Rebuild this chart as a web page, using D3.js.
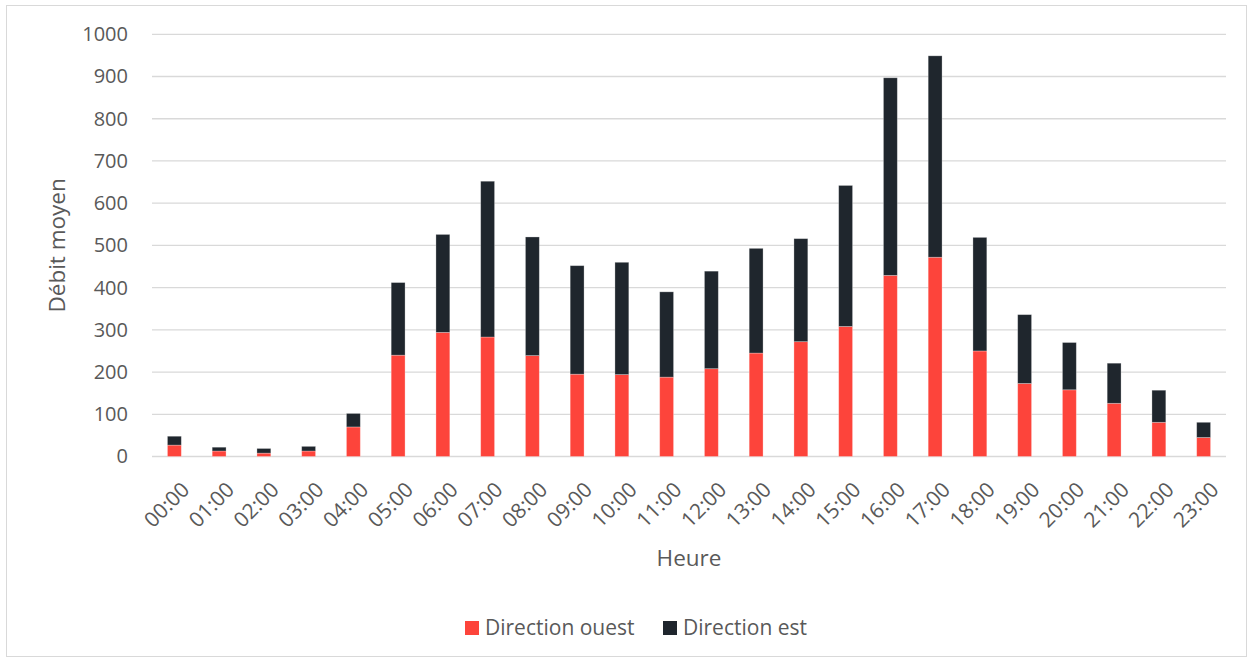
<!DOCTYPE html>
<html>
<head>
<meta charset="utf-8">
<script src="https://cdn.jsdelivr.net/npm/d3@7"></script>
<style>
  html, body { margin: 0; padding: 0; background: #fff; }
  svg { display: block; }
  text { font-family: "Open Sans", "Liberation Sans", sans-serif; fill: #595959; }
</style>
</head>
<body>
<svg id="chart" width="1253" height="662"></svg>
<script>
// Hourly average flow, split by direction
const hours = ["00:00","01:00","02:00","03:00","04:00","05:00","06:00","07:00","08:00","09:00","10:00","11:00",
               "12:00","13:00","14:00","15:00","16:00","17:00","18:00","19:00","20:00","21:00","22:00","23:00"];
const ouest = [27, 13, 8, 13, 70, 240, 294, 283, 239, 195, 194, 188, 208, 245, 272, 308, 429, 472, 250, 173, 158, 126, 81, 45];
const est   = [21, 9, 11, 11, 32, 172, 232, 369, 281, 257, 266, 202, 231, 248, 244, 334, 468, 477, 269, 163, 112, 95, 76, 36];
const yTicks = [0, 100, 200, 300, 400, 500, 600, 700, 800, 900, 1000];
const seriesNames = ["Direction ouest", "Direction est"];
const seriesColors = ["#fd443b", "#1f262d"];

const svg = d3.select("#chart");
const W = 1253, H = 662;
const margin = { left: 152, right: 27, top: 34.3, bottom: 205.5 };

// chart frame
svg.append("rect")
  .attr("x", 6.5).attr("y", 5.5).attr("width", W - 13).attr("height", H - 11)
  .attr("fill", "#fff").attr("stroke", "#d9d9d9").attr("stroke-width", 1);

const x = d3.scaleBand().domain(hours)
  .range([margin.left, W - margin.right])
  .paddingInner(0.69).paddingOuter(0.345);
const y = d3.scaleLinear().domain([0, 1000])
  .range([H - margin.bottom, margin.top]);

// horizontal gridlines
svg.append("g").selectAll("line").data(yTicks).join("line")
  .attr("x1", margin.left).attr("x2", W - margin.right)
  .attr("y1", d => y(d)).attr("y2", d => y(d))
  .attr("stroke", "#d9d9d9").attr("stroke-width", 1.3);

// y tick labels
const yAxis = d3.axisLeft(y).tickValues(yTicks).tickFormat(d3.format("d")).tickSize(0).tickPadding(24);
svg.append("g").attr("transform", `translate(${margin.left},0)`).call(yAxis)
  .call(g => g.select(".domain").remove())
  .selectAll("text")
  .attr("font-size", 20).attr("fill", "#595959")
  .style("font-family", "'Open Sans', sans-serif");

// stacked bars
const rows = hours.map((h, i) => ({ hour: h, ouest: ouest[i], est: est[i] }));
const stack = d3.stack().keys(["ouest", "est"])(rows);
svg.append("g").selectAll("g").data(stack).join("g")
  .attr("fill", (d, i) => seriesColors[i])
  .selectAll("rect").data(d => d).join("rect")
  .attr("x", d => x(d.data.hour))
  .attr("width", x.bandwidth())
  .attr("y", d => y(d[1]))
  .attr("height", d => y(d[0]) - y(d[1]))
  .attr("stroke", "rgba(255,255,255,0.35)").attr("stroke-width", 0.8);

// x tick labels, rotated
const xAxis = d3.axisBottom(x).tickSize(0).tickPadding(0);
const gx = svg.append("g").attr("transform", `translate(0,${y(0)})`).call(xAxis);
gx.select(".domain").remove();
gx.selectAll("text")
  .attr("font-size", 21).attr("fill", "#595959")
  .style("font-family", "'Open Sans', sans-serif")
  .attr("text-anchor", "end")
  .attr("dy", null).attr("y", 0)
  .attr("transform", "translate(4,22) rotate(-45)")
  .attr("dominant-baseline", "hanging");

// axis titles
svg.append("text")
  .attr("transform", `translate(65,${(y(0) + y(1000)) / 2}) rotate(-90)`)
  .attr("text-anchor", "middle")
  .attr("font-size", 22.5)
  .text("Débit moyen");
svg.append("text")
  .attr("x", (margin.left + W - margin.right) / 2)
  .attr("y", 566)
  .attr("text-anchor", "middle")
  .attr("font-size", 22.5)
  .text("Heure");

// legend
const legendItems = [{ name: seriesNames[0], color: seriesColors[0], x: 465 },
                     { name: seriesNames[1], color: seriesColors[1], x: 663 }];
const lg = svg.append("g").selectAll("g").data(legendItems).join("g")
  .attr("transform", d => `translate(${d.x},621)`);
lg.append("rect").attr("width", 14).attr("height", 14).attr("fill", d => d.color);
lg.append("text").attr("x", 20).attr("y", 14).attr("font-size", 21).text(d => d.name);
</script>
</body>
</html>
